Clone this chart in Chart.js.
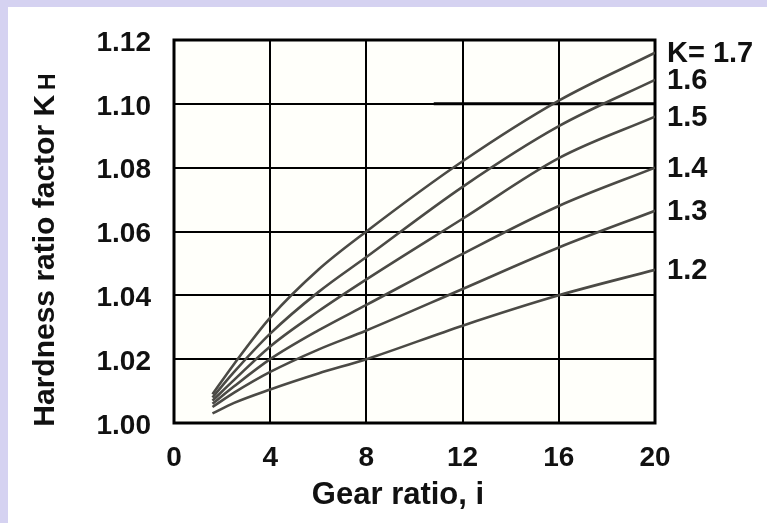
<!DOCTYPE html>
<html>
<head>
<meta charset="utf-8">
<script src="https://cdn.jsdelivr.net/npm/chart.js@4/dist/chart.umd.min.js"></script>
<style>
  html, body { margin: 0; padding: 0; background: #fff; }
  canvas { display: block; }
</style>
</head>
<body>
<canvas id="kh" width="767" height="523"></canvas>
<script>
const gearRatio = [1.6, 2.5, 4, 6, 8, 12, 16, 20];

// hardness ratio factor K_H for each K
const k17 = [1.009, 1.0185, 1.033, 1.048, 1.060, 1.082, 1.101, 1.116];
const k16 = [1.008, 1.016, 1.028, 1.041, 1.052, 1.074, 1.093, 1.1075];
const k15 = [1.007, 1.0135, 1.024, 1.035, 1.045, 1.064, 1.083, 1.096];
const k14 = [1.006, 1.0115, 1.020, 1.029, 1.037, 1.053, 1.068, 1.080];
const k13 = [1.005, 1.0095, 1.016, 1.023, 1.029, 1.042, 1.055, 1.0665];
const k12 = [1.003, 1.0063, 1.0105, 1.0155, 1.020, 1.0305, 1.040, 1.048];

const curveLabels = ['K= 1.7', '1.6', '1.5', '1.4', '1.3', '1.2'];
const xTicks = [0, 4, 8, 12, 16, 20];
const yTicks = ['1.00', '1.02', '1.04', '1.06', '1.08', '1.10', '1.12'];

const series = [k17, k16, k15, k14, k13, k12];
const ink = '#111';
const FONT = '"Liberation Sans", Arial, sans-serif';

const datasets = series.map((vals, n) => ({
  label: curveLabels[n],
  data: vals.map((v, j) => ({ x: gearRatio[j], y: v })),
  borderColor: '#4b4a45',
  borderWidth: 2.6,
  pointRadius: 0,
  fill: false,
  cubicInterpolationMode: 'monotone'
}));

// background, frame, titles and curve labels
const decor = {
  id: 'decor',
  beforeDraw(chart) {
    const c = chart.ctx, a = chart.chartArea;
    c.save();
    c.fillStyle = '#ffffff';
    c.fillRect(0, 0, chart.width, chart.height);
    c.fillStyle = '#d5d2f1';
    c.fillRect(0, 0, chart.width, 7);
    c.fillRect(0, 0, 8, chart.height);
    c.fillStyle = '#fffffa';
    c.fillRect(a.left, a.top, a.right - a.left, a.bottom - a.top);
    c.restore();
  },
  beforeDatasetsDraw(chart) {
    const c = chart.ctx, a = chart.chartArea, xs = chart.scales.x, ys = chart.scales.y;
    c.save();
    c.strokeStyle = '#000';
    c.lineWidth = 3;
    c.strokeRect(a.left, a.top, a.right - a.left, a.bottom - a.top);
    // the 1.10 rule is heavier on its right part in the original
    c.beginPath();
    c.moveTo(xs.getPixelForValue(10.8), ys.getPixelForValue(1.10));
    c.lineTo(a.right, ys.getPixelForValue(1.10));
    c.stroke();
    c.restore();
  },
  afterDraw(chart) {
    const c = chart.ctx, a = chart.chartArea, ys = chart.scales.y;
    c.save();
    c.fillStyle = ink;
    c.textBaseline = 'middle';
    c.textAlign = 'left';
    c.font = 'bold 29px ' + FONT;
    series.forEach((vals, n) => {
      c.fillText(curveLabels[n], a.right + 12, ys.getPixelForValue(vals[vals.length - 1]) + 1);
    });

    // x title
    c.textAlign = 'center';
    c.font = 'bold 31px ' + FONT;
    c.fillText('Gear ratio, i', 398, 495);

    // y title with subscript H
    c.translate(43, 250);
    c.rotate(-Math.PI / 2);
    c.textAlign = 'left';
    c.textBaseline = 'alphabetic';
    const main = 'Hardness ratio factor K';
    c.font = 'bold 30px ' + FONT;
    const w1 = c.measureText(main).width;
    c.font = 'bold 23px ' + FONT;
    const w2 = c.measureText('H').width;
    const start = -(w1 + 5 + w2) / 2;
    c.font = 'bold 30px ' + FONT;
    c.fillText(main, start, 11);
    c.font = 'bold 23px ' + FONT;
    c.fillText('H', start + w1 + 5, 12);
    c.restore();
  }
};

new Chart(document.getElementById('kh'), {
  type: 'line',
  data: { datasets },
  options: {
    responsive: false,
    animation: false,
    devicePixelRatio: 1,
    layout: { padding: { left: 0, right: 112, top: 40, bottom: 0 } },
    plugins: { legend: { display: false }, tooltip: { enabled: false } },
    scales: {
      x: {
        type: 'linear',
        min: 0, max: 20,
        afterFit(s) { s.height = 100; },
        afterBuildTicks(s) { s.ticks = xTicks.map(v => ({ value: v })); },
        grid: { color: '#000', lineWidth: 2, drawTicks: false },
        border: { display: false },
        ticks: {
          color: ink, padding: 18,
          font: { family: FONT, size: 28, weight: 'bold' },
          maxRotation: 0
        }
      },
      y: {
        type: 'linear',
        min: 1.0, max: 1.12,
        afterFit(s) { s.width = 174; },
        afterBuildTicks(s) { s.ticks = yTicks.map(t => ({ value: parseFloat(t) })); },
        grid: { color: '#000', lineWidth: 2, drawTicks: false },
        border: { display: false },
        ticks: {
          color: ink, padding: 23, labelOffset: 3,
          font: { family: FONT, size: 28, weight: 'bold' },
          callback: (v, i) => yTicks[i]
        }
      }
    }
  },
  plugins: [decor]
});
</script>
</body>
</html>
